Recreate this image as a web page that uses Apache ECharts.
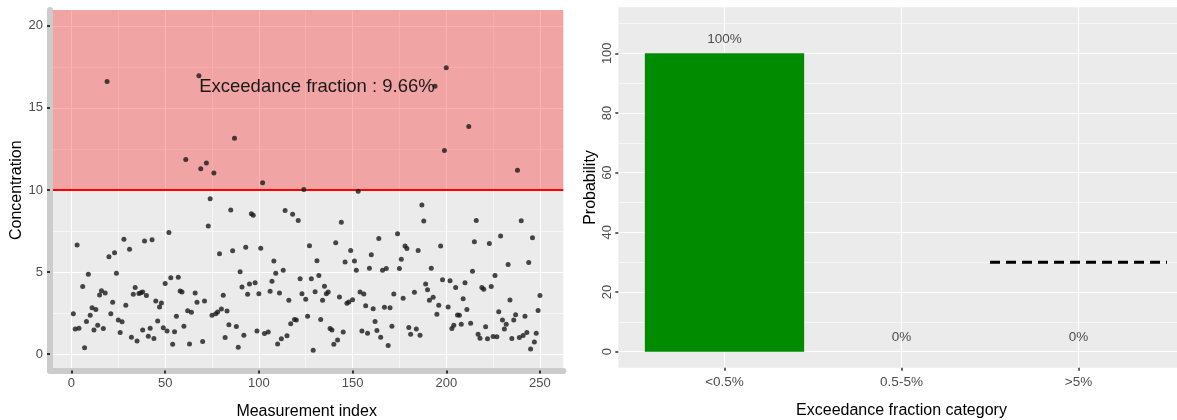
<!DOCTYPE html>
<html><head><meta charset="utf-8">
<script src="https://cdn.jsdelivr.net/npm/echarts@6/dist/echarts.min.js"></script>
<style>html,body{margin:0;padding:0;background:#fff}#c{width:1177px;height:420px}</style>
</head><body><div id="c"></div>
<script>
// ---- data ----
const idx = [1,2,3,4,6,7,8,9,10,11,12,13,14,15,16,17,18,19,20,21,22,23,24,25,26,27,28,29,31,32,33,34,35,36,37,38,38,39,40,41,42,43,44,45,46,47,48,49,50,51,52,53,54,55,56,57,58,59,60,61,62,63,64,66,67,68,69,70,71,72,73,74,75,76,77,78,79,80,81,82,83,84,85,86,87,88,89,90,91,92,93,94,95,96,97,98,99,100,101,102,103,105,106,107,108,109,110,111,112,113,114,115,116,117,118,119,120,121,122,123,124,125,126,127,128,129,130,131,132,133,134,135,136,137,138,139,140,141,142,143,144,145,146,147,148,149,150,151,152,153,154,155,156,157,158,159,160,161,162,163,164,165,166,167,168,169,170,171,172,174,175,176,177,178,179,180,181,183,184,185,186,187,188,189,190,191,192,193,194,195,196,197,198,199,200,201,202,203,204,205,206,207,208,209,210,211,212,213,214,215,216,217,218,219,220,221,222,223,224,225,226,227,228,229,230,231,232,233,234,235,236,237,238,239,240,241,242,243,244,245,246,247,248,249,250];
const conc = [2.47,1.53,6.65,1.59,4.12,0.39,2.0,4.87,2.38,2.83,1.47,2.73,1.77,3.61,3.87,1.57,3.73,16.6,5.93,2.47,3.16,6.18,4.93,2.08,1.33,1.98,7.0,2.98,6.4,1.04,3.66,4.06,0.8,3.7,3.75,3.79,1.47,6.89,3.57,1.1,1.59,6.97,0.96,3.24,2.02,2.87,3.12,1.61,4.3,1.41,7.42,4.65,0.61,1.37,2.32,4.69,3.85,3.79,1.71,11.85,2.65,0.63,2.55,3.73,3.16,16.96,11.3,0.78,3.24,11.64,7.81,9.46,2.37,11.03,2.47,2.57,6.12,2.75,3.59,1.02,2.63,1.79,8.79,6.3,13.15,1.69,0.43,5.03,4.1,1.16,6.52,3.65,4.28,8.56,8.46,4.36,1.41,3.69,6.46,10.44,1.27,1.35,3.83,4.44,5.67,4.93,0.63,3.73,0.94,5.12,8.75,1.12,3.28,1.85,8.52,2.12,2.08,8.15,4.6,3.69,10.03,3.35,2.32,6.6,4.6,0.24,3.81,5.69,4.79,2.12,3.28,4.14,3.69,3.79,1.57,1.47,0.61,6.79,0.86,3.49,8.03,1.35,5.61,3.1,3.18,6.32,3.32,5.67,5.12,9.93,3.79,1.41,3.67,2.95,1.28,5.24,6.06,2.77,2.0,1.45,7.05,1.04,5.12,2.86,5.22,0.53,2.83,1.71,3.67,7.34,5.22,5.79,3.41,6.59,6.44,1.63,1.22,3.77,1.53,6.32,1.16,9.09,8.12,4.28,3.93,3.28,5.24,3.47,16.31,2.43,2.98,6.59,4.53,12.4,17.45,2.87,4.48,1.57,1.77,4.06,2.39,2.37,1.83,3.38,4.36,2.73,13.87,1.88,5.06,6.85,8.15,1.22,0.98,4.06,3.96,1.67,0.94,6.75,4.12,1.08,4.79,1.06,2.59,7.2,2.08,1.53,1.83,5.46,3.3,0.96,2.08,2.4,11.21,1.02,8.13,1.14,2.32,1.33,5.58,0.32,7.09,0.75,1.28,2.67,3.57];
const threshold = 10;
const annotationText = 'Exceedance fraction : 9.66%';
const annotationPos = [131, 16.3];
const xTicksLeft = [0, 50, 100, 150, 200, 250];
const xMinorLeft = [25, 75, 125, 175, 225];
const yTicksLeft = [0, 5, 10, 15, 20];
const yMinorLeft = [2.5, 7.5, 12.5, 17.5];
const categories = ['<0.5%', '0.5-5%', '>5%'];
const probabilities = [100, 0, 0];
const yTicksRight = [0, 20, 40, 60, 80, 100];
const yMinorRight = [10, 30, 50, 70, 90, 110];
const refLineX = [2.5, 3.5];
const refLineY = 30;

// ---- chart ----
const FONT = '"Liberation Sans", Arial, Helvetica, sans-serif';
const GREY = '#4d4d4d';
const LX = [-11.45, 262.45], LY = [-0.99, 20.96];
const RX = [0.4, 3.6], RY = [-5.36, 115.4];

function gridAxis(gi, ext, ticks, width) {
  return {
    gridIndex: gi, type: 'value', min: ext[0], max: ext[1], z: 0,
    axisLine: {show: false}, axisLabel: {show: false},
    axisTick: {show: false, customValues: ticks},
    splitLine: {show: true, lineStyle: {color: '#ffffff', width: width}}
  };
}

const pts = idx.map((x, i) => [x, conc[i]]);

const option = {
  animation: false,
  backgroundColor: '#ffffff',
  textStyle: {fontFamily: FONT},
  grid: [
    {left: 50, top: 10, width: 513.3, height: 360.5, show: true, backgroundColor: '#EBEBEB', borderWidth: 0, outerBoundsMode: 'none', containLabel: false},
    {left: 618.3, top: 7.3, width: 566.4, height: 360.4, show: true, backgroundColor: '#EBEBEB', borderWidth: 0, outerBoundsMode: 'none', containLabel: false}
  ],
  xAxis: [
    {
      gridIndex: 0, type: 'value', min: LX[0], max: LX[1], z: 6,
      axisLine: {show: true, onZero: false, lineStyle: {color: '#cccccc', width: 6}},
      axisTick: {show: true, length: 3, customValues: xTicksLeft, lineStyle: {color: '#333', width: 2}},
      axisLabel: {show: true, customValues: xTicksLeft, color: GREY, fontSize: 13, margin: 6, fontFamily: FONT},
      splitLine: {show: false},
      name: 'Measurement index', nameLocation: 'middle', nameGap: 33,
      nameTextStyle: {color: '#000', fontSize: 16, fontFamily: FONT}
    },
    gridAxis(0, LX, xTicksLeft, 1.1),
    gridAxis(0, LX, xMinorLeft, 0.55),
    {
      gridIndex: 1, type: 'value', min: RX[0], max: RX[1], z: 0,
      axisLine: {show: false, onZero: false},
      axisTick: {show: true, length: 3, customValues: [1, 2, 3], lineStyle: {color: '#333', width: 1.5}},
      axisLabel: {show: true, customValues: [1, 2, 3], formatter: v => categories[Math.round(v) - 1], color: GREY, fontSize: 13.5, margin: 8, fontFamily: FONT},
      splitLine: {show: true, lineStyle: {color: '#ffffff', width: 1.1}},
      name: 'Exceedance fraction category', nameLocation: 'middle', nameGap: 35,
      nameTextStyle: {color: '#000', fontSize: 16, fontFamily: FONT}
    }
  ],
  yAxis: [
    {
      gridIndex: 0, type: 'value', min: LY[0], max: LY[1], z: 6,
      axisLine: {show: true, onZero: false, lineStyle: {color: '#cccccc', width: 6}},
      axisTick: {show: true, length: 3, customValues: yTicksLeft, lineStyle: {color: '#333', width: 2}},
      axisLabel: {show: true, customValues: yTicksLeft, color: GREY, fontSize: 13, margin: 7, fontFamily: FONT},
      splitLine: {show: false},
      name: 'Concentration', nameLocation: 'middle', nameGap: 23,
      nameTextStyle: {color: '#000', fontSize: 16, fontFamily: FONT}
    },
    gridAxis(0, LY, yTicksLeft, 1.1),
    gridAxis(0, LY, yMinorLeft, 0.55),
    {
      gridIndex: 1, type: 'value', min: RY[0], max: RY[1], z: 0,
      axisLine: {show: false, onZero: false},
      axisTick: {show: true, length: 3, customValues: yTicksRight, lineStyle: {color: '#333', width: 1.5}},
      axisLabel: {show: true, customValues: yTicksRight, rotate: 90, color: GREY, fontSize: 13, margin: 4, fontFamily: FONT},
      splitLine: {show: true, lineStyle: {color: '#ffffff', width: 1.1}},
      name: 'Probability', nameLocation: 'middle', nameGap: 20,
      nameTextStyle: {color: '#000', fontSize: 16, fontFamily: FONT}
    },
    gridAxis(1, RY, yMinorRight, 0.55)
  ],
  series: [
    {
      type: 'scatter', xAxisIndex: 0, yAxisIndex: 0, z: 10,
      data: pts, symbolSize: 5, itemStyle: {color: '#1a1a1a'},
      markArea: {
        silent: true, z: 1,
        itemStyle: {color: 'rgba(255,0,0,0.3)'},
        data: [[{yAxis: threshold}, {yAxis: LY[1]}]]
      },
      markLine: {
        silent: true, symbol: 'none', z: 5,
        label: {show: false},
        lineStyle: {color: '#ff0000', width: 2.2, type: 'solid'},
        data: [{yAxis: threshold}]
      },
      markPoint: {
        silent: true, symbol: 'circle', symbolSize: 1, itemStyle: {color: 'rgba(0,0,0,0)'},
        label: {show: true, position: 'inside', formatter: annotationText, color: '#1a1a1a', fontSize: 18.5, fontFamily: FONT},
        data: [{coord: annotationPos}]
      }
    },
    {
      type: 'bar', xAxisIndex: 3, yAxisIndex: 3, z: 3,
      data: probabilities.map((p, i) => [i + 1, p]),
      barWidth: 159.3,
      itemStyle: {color: '#008B00'},
      label: {show: true, position: 'top', distance: 7, formatter: p => p.value[1] + '%', color: GREY, fontSize: 13.5, fontFamily: FONT}
    },
    {
      type: 'line', xAxisIndex: 3, yAxisIndex: 3, symbol: 'none', z: 8,
      data: refLineX.map(x => [x, refLineY]),
      lineStyle: {color: '#000', width: 3, type: [10, 6]}
    }
  ]
};
const chart = echarts.init(document.getElementById('c'), null, {renderer: 'canvas'});
chart.setOption(option);
</script></body></html>
